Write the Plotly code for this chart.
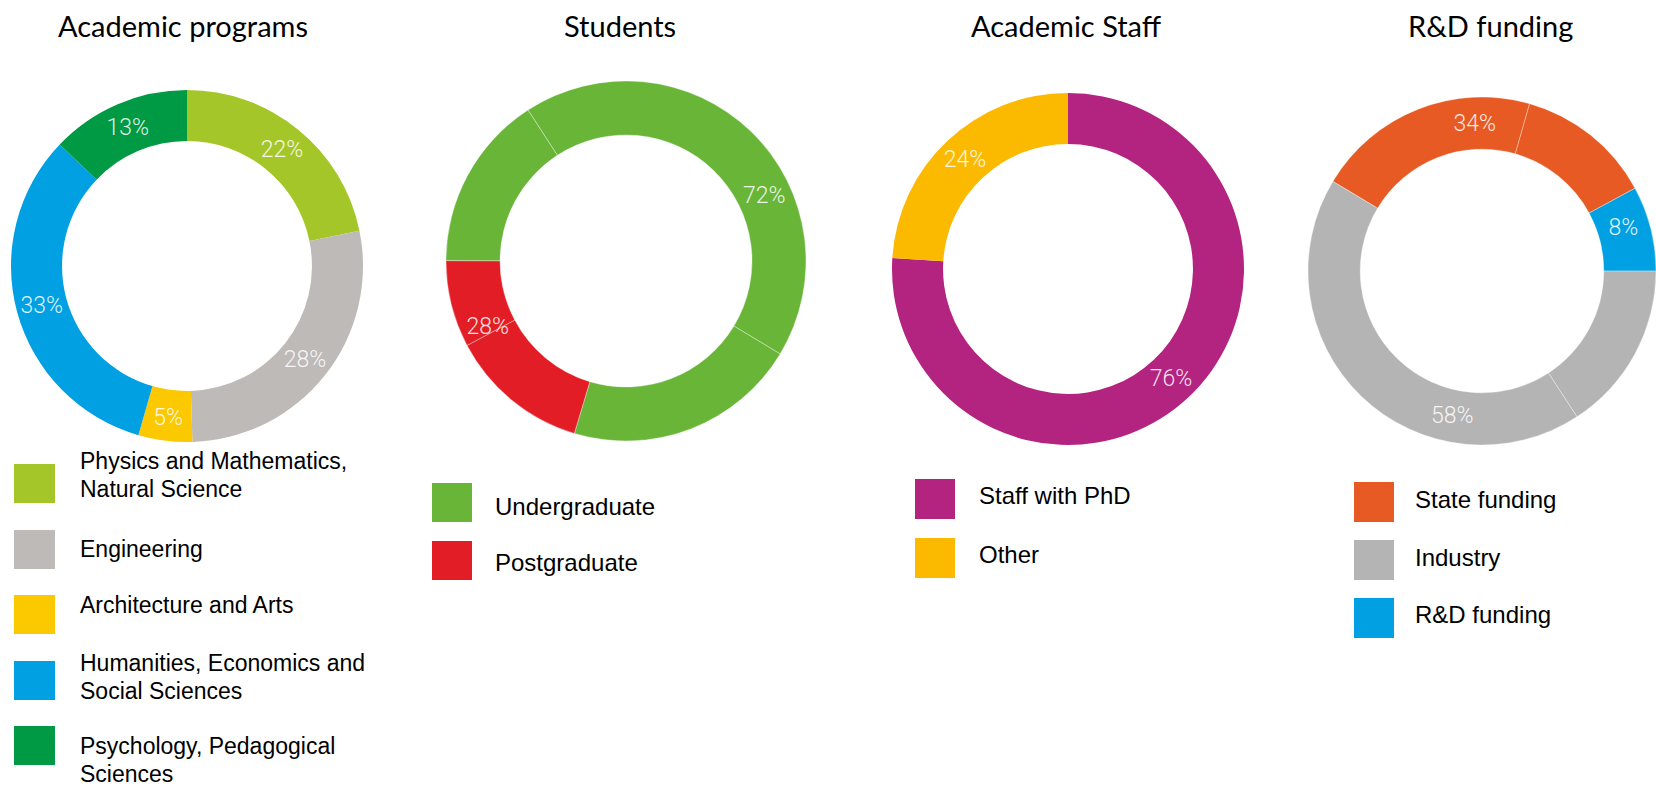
import plotly.graph_objects as go

W, H = 1656, 788

# ---------------- data ----------------
# Academic programs (clockwise from 12 o'clock)
prog_labels = ["Physics and Mathematics,<br>Natural Science", "Engineering",
               "Architecture and Arts", "Humanities, Economics and<br>Social Sciences",
               "Psychology, Pedagogical<br>Sciences"]
prog_values = [22, 28, 5, 33, 13]
prog_colors = ["#A5C628", "#BDBAB8", "#FCC800", "#00A0E2", "#009A44"]

# Students: printed shares, and the ring segments as drawn
# (clockwise, starting at the upper-left seam)
stud_labels = ["Undergraduate", "Postgraduate"]
stud_pct = [72, 28]
stud_colors = ["#68B538", "#E31D25"]
stud_seg_cat = [0, 0, 1, 1, 0]
stud_seg_share = [42.8, 21.0, 12.6, 7.8, 15.8]

# Academic staff (clockwise from 12 o'clock)
staff_labels = ["Staff with PhD", "Other"]
staff_values = [76, 24]
staff_colors = ["#B32380", "#FBBA00"]

# R&D funding: printed shares (in ring order) and the ring segments as drawn
rd_labels = ["State funding", "Industry", "R&D funding"]
rd_values = [34, 58, 8]
rd_colors = ["#E85A23", "#B3B4B3", "#00A0E2"]
rd_ring_order = [0, 2, 1]
rd_seg_cat = [0, 0, 2, 1, 1]
rd_seg_share = [20.8, 12.7, 7.9, 15.8, 42.8]

# ---------------- helpers ----------------
def px_x(x):
    return x / W

def px_y(y):
    return 1 - y / H

fig = go.Figure()

PCT_FONT = dict(family="Roboto", size=23, color="rgba(255,255,255,0.88)", weight=300)
SEAM = dict(color="rgba(255,255,255,0.35)", width=1)
CLEAR = "rgba(0,0,0,0)"


def add_donut(values, colors, texts, dom_x, dom_y, hole, rotation=0, line=None):
    fig.add_trace(go.Pie(
        values=values,
        marker=dict(colors=colors, line=line or dict(width=0)),
        text=texts,
        textinfo="text" if texts is not None else "none",
        textposition="inside",
        insidetextorientation="horizontal",
        textfont=PCT_FONT,
        hole=hole,
        sort=False,
        direction="clockwise",
        rotation=rotation,
        showlegend=False,
        hoverinfo="skip",
        domain=dict(x=[px_x(dom_x[0]), px_x(dom_x[1])],
                    y=[px_y(dom_y[1]), px_y(dom_y[0])]),
    ))


# Academic programs
add_donut(prog_values, prog_colors, [f"{v}%" for v in prog_values],
          (11, 363), (90, 442), 0.71)

# Students: drawn ring + printed percentages
STUD_DOM = ((446, 806), (81, 441))
add_donut(stud_seg_share, [stud_colors[c] for c in stud_seg_cat], None,
          *STUD_DOM, 0.70, rotation=-33, line=SEAM)
add_donut(stud_pct, [CLEAR] * len(stud_pct), [f"{v}%" for v in stud_pct],
          *STUD_DOM, 0.70, rotation=-65)

# Academic staff
add_donut(staff_values, staff_colors, [f"{v}%" for v in staff_values],
          (892, 1244), (93, 445), 0.71)

# R&D funding: drawn ring + printed percentages
RD_DOM = ((1308, 1656), (97, 445))
add_donut(rd_seg_share, [rd_colors[c] for c in rd_seg_cat], None,
          *RD_DOM, 0.70, rotation=-59, line=SEAM)
add_donut([rd_values[i] for i in rd_ring_order], [CLEAR] * len(rd_values),
          [f"{rd_values[i]}%" for i in rd_ring_order],
          *RD_DOM, 0.70, rotation=-64)

# ---------------- titles ----------------
titles = [("Academic programs", 183), ("Students", 620),
          ("Academic Staff", 1066), ("R&D funding", 1490)]
for t, x in titles:
    fig.add_annotation(text=t, x=px_x(x), y=px_y(25), xref="paper", yref="paper",
                       xanchor="center", yanchor="middle", showarrow=False,
                       font=dict(family="Lato", size=29, color="#000000"))

# ---------------- legends ----------------
legends = [
    dict(labels=prog_labels, colors=prog_colors, sq_x=(14, 55),
         sq_y=[464, 530, 595, 661, 726], sq_h=39, text_x=78,
         text_y=[475, 549, 605, 677, 760], size=23),
    dict(labels=stud_labels, colors=stud_colors, sq_x=(432, 472),
         sq_y=[483, 541], sq_h=39, text_x=493, text_y=[506, 562], size=24),
    dict(labels=staff_labels, colors=staff_colors, sq_x=(915, 955),
         sq_y=[479, 538], sq_h=40, text_x=977, text_y=[495, 554], size=24),
    dict(labels=rd_labels, colors=rd_colors, sq_x=(1354, 1394),
         sq_y=[482, 540, 598], sq_h=40, text_x=1413, text_y=[499, 557, 614], size=24),
]
LINE_GAP = 28

for lg in legends:
    font = dict(family="Liberation Sans, Arial, sans-serif", size=lg["size"], color="#000000")
    for lab, col, sy, ty in zip(lg["labels"], lg["colors"], lg["sq_y"], lg["text_y"]):
        fig.add_shape(type="rect", xref="paper", yref="paper",
                      x0=px_x(lg["sq_x"][0]), x1=px_x(lg["sq_x"][1]),
                      y0=px_y(sy + lg["sq_h"]), y1=px_y(sy),
                      fillcolor=col, line=dict(width=0))
        lines = lab.split("<br>")
        first = ty - LINE_GAP * (len(lines) - 1) / 2
        for k, ln in enumerate(lines):
            fig.add_annotation(text=ln, x=px_x(lg["text_x"]), y=px_y(first + k * LINE_GAP),
                               xref="paper", yref="paper", xanchor="left",
                               yanchor="middle", align="left", showarrow=False,
                               font=font)

fig.update_layout(
    width=W, height=H,
    margin=dict(l=0, r=0, t=0, b=0),
    paper_bgcolor="#FFFFFF",
    plot_bgcolor="#FFFFFF",
    uniformtext=dict(minsize=23, mode="show"),
)

fig.write_html("out.html", config={"displayModeBar": False},
               post_script="document.body.style.margin='0px';")
